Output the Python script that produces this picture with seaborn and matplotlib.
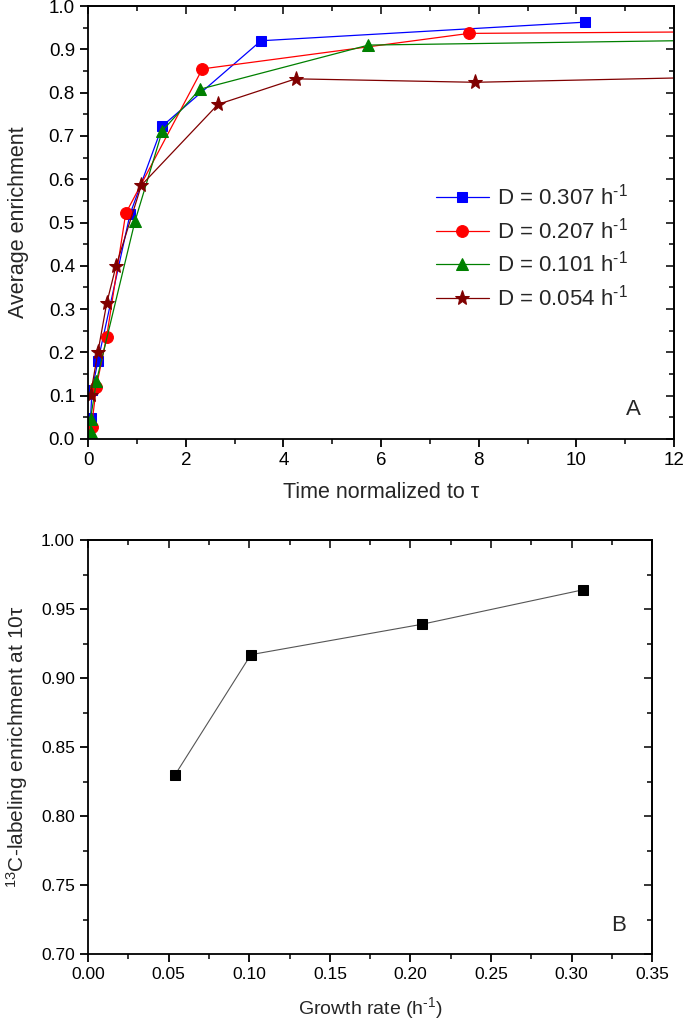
import matplotlib
matplotlib.use("Agg")
import matplotlib.pyplot as plt
from matplotlib.ticker import MultipleLocator, FormatStrFormatter
import pandas as pd
import seaborn as sns

# panel A: enrichment vs normalized time, one series per dilution rate
labels = ['D = 0.307 h$^{\\text{-1}}$', 'D = 0.207 h$^{\\text{-1}}$',
          'D = 0.101 h$^{\\text{-1}}$', 'D = 0.054 h$^{\\text{-1}}$']
t_307 = [0.05, 0.08, 0.20, 0.86, 1.52, 3.54, 10.18]
e_307 = [0.048, 0.113, 0.179, 0.520, 0.723, 0.920, 0.963]
t_207 = [0.07, 0.17, 0.38, 0.77, 2.34, 7.80, 14.5]
e_207 = [0.027, 0.121, 0.236, 0.521, 0.855, 0.937, 0.942]
t_101 = [0.05, 0.05, 0.17, 0.96, 1.52, 2.29, 5.74, 14.5]
e_101 = [0.017, 0.046, 0.133, 0.503, 0.712, 0.808, 0.910, 0.924]
t_054 = [0.05, 0.20, 0.38, 0.57, 1.09, 2.66, 4.25, 7.93, 14.5]
e_054 = [0.102, 0.200, 0.313, 0.399, 0.586, 0.773, 0.832, 0.824, 0.840]

# panel B: enrichment at 10 tau vs growth rate
growth = [0.054, 0.101, 0.207, 0.307]
enrich10 = [0.830, 0.917, 0.939, 0.964]

sns.set_theme(style="white")
plt.rcParams['font.family'] = ['Liberation Sans', 'DejaVu Sans']
plt.rcParams['mathtext.fontset'] = 'custom'
plt.rcParams['mathtext.rm'] = 'Liberation Sans'
plt.rcParams['mathtext.it'] = 'Liberation Sans:italic'
plt.rcParams['mathtext.bf'] = 'Liberation Sans:bold'

fig = plt.figure(figsize=(6.83, 10.23), dpi=100)
ax1 = fig.add_axes([0.129, 0.571, 0.858, 0.423])
ax2 = fig.add_axes([0.129, 0.0674, 0.826, 0.4046])

series = [(t_307, e_307, 'blue', 's', 7.5),
          (t_207, e_207, 'red', 'o', 8.5),
          (t_101, e_101, 'green', '^', 8.5),
          (t_054, e_054, '#800000', '*', 11)]
for (t, e, c, m, ms), lab in zip(series, labels):
    df = pd.DataFrame({'t': t, 'e': e})
    sns.lineplot(ax=ax1, data=df, x='t', y='e', sort=False, estimator=None,
                 color=c, marker=m, markersize=ms, markeredgecolor=c,
                 linewidth=0.9, label=lab)

ax1.set_xlim(0, 12)
ax1.set_ylim(0, 1.0)
ax1.xaxis.set_major_locator(MultipleLocator(2))
ax1.xaxis.set_minor_locator(MultipleLocator(1))
ax1.yaxis.set_major_locator(MultipleLocator(0.1))
ax1.yaxis.set_minor_locator(MultipleLocator(0.05))
ax1.set_xlabel('Time normalized to τ', fontsize=15.5, labelpad=9)
ax1.set_ylabel('Average enrichment', fontsize=15.5, labelpad=14)
ax1.text(0.93, 0.055, 'A', transform=ax1.transAxes, fontsize=16, ha='center')
ax1.legend(loc='center left', bbox_to_anchor=(0.575, 0.443), frameon=False,
           borderpad=0, fontsize=16, handlelength=2.36, handletextpad=0.36,
           labelspacing=0.35)

df2 = pd.DataFrame({'g': growth, 'e': enrich10})
sns.lineplot(ax=ax2, data=df2, x='g', y='e', sort=False, estimator=None,
             color='#555555', linewidth=0.8, marker='s', markersize=6.5,
             markerfacecolor='black', markeredgecolor='black')
ax2.set_xlim(0, 0.35)
ax2.set_ylim(0.70, 1.00)
ax2.xaxis.set_major_locator(MultipleLocator(0.05))
ax2.xaxis.set_minor_locator(MultipleLocator(0.025))
ax2.yaxis.set_major_locator(MultipleLocator(0.05))
ax2.yaxis.set_minor_locator(MultipleLocator(0.025))
ax2.xaxis.set_major_formatter(FormatStrFormatter('%.2f'))
ax2.yaxis.set_major_formatter(FormatStrFormatter('%.2f'))
ax2.set_xlabel('Growth rate (h$^{\\text{-1}}$)', fontsize=14, labelpad=9)
ax2.set_ylabel('$^{13}$C-labeling enrichment at 10τ', fontsize=15, labelpad=8)
ax2.text(0.94, 0.055, 'B', transform=ax2.transAxes, fontsize=16, ha='center')

# Origin-like frame: ticks out on left/bottom, in on top/right
for ax, fs in ((ax1, 13.5), (ax2, 12.5)):
    for s in ax.spines.values():
        s.set_linewidth(1.3)
        s.set_color('black')
    ax.tick_params(which='major', direction='out', length=6, width=1.3, labelsize=fs,
                   left=True, bottom=True, colors='black')
    ax.tick_params(which='minor', direction='out', length=3.5, width=1.3,
                   left=True, bottom=True)
    sec = ax.secondary_xaxis('top')
    sec.xaxis.set_major_locator(ax.xaxis.get_major_locator())
    sec.xaxis.set_minor_locator(ax.xaxis.get_minor_locator())
    sec.set_xticklabels([])
    sec2 = ax.secondary_yaxis('right')
    sec2.yaxis.set_major_locator(ax.yaxis.get_major_locator())
    sec2.yaxis.set_minor_locator(ax.yaxis.get_minor_locator())
    sec2.set_yticklabels([])
    for sx in (sec, sec2):
        sx.tick_params(which='major', direction='in', length=6, width=1.3)
        sx.tick_params(which='minor', direction='in', length=3.5, width=1.3)
        for s in sx.spines.values():
            s.set_linewidth(1.3)

fig.savefig('out.png', dpi=100)
